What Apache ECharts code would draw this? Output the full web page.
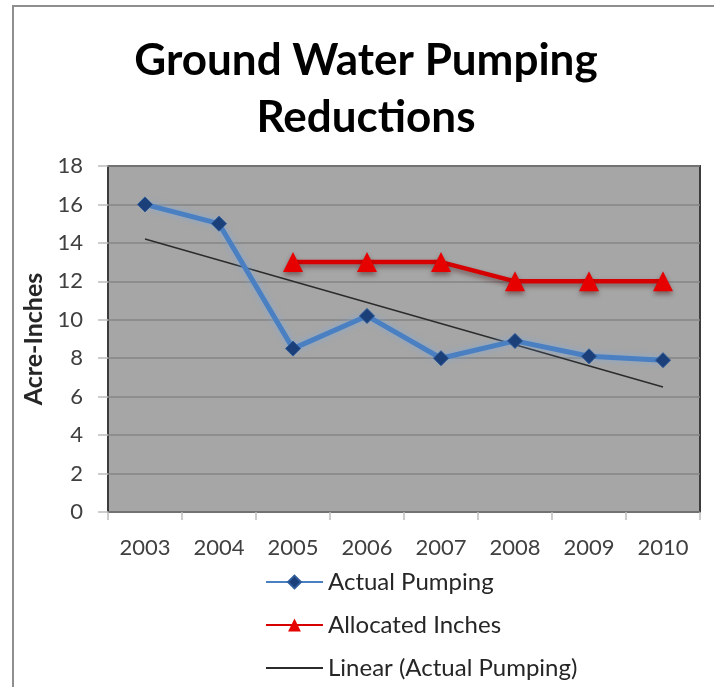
<!DOCTYPE html>
<html>
<head>
<meta charset="utf-8">
<script src="https://cdn.jsdelivr.net/npm/echarts@6/dist/echarts.min.js"></script>
<style>
  html, body { margin: 0; padding: 0; background: #ffffff; }
  #chart { width: 714px; height: 687px; }
</style>
</head>
<body>
<div id="chart"></div>
<script>
// Years on the category axis
const years = ['2003', '2004', '2005', '2006', '2007', '2008', '2009', '2010'];

// Acre-inches actually pumped each year
const actualPumping = [16, 15, 8.5, 10.2, 8, 8.9, 8.1, 7.9];

// Allocation (starts in 2005)
const allocatedInches = [null, null, 13, 13, 13, 12, 12, 12];

// Linear trend of actual pumping: first and last year values
const linearTrend = [14.2, null, null, null, null, null, null, 6.5];

// Value axis ticks
const yTicks = [0, 2, 4, 6, 8, 10, 12, 14, 16, 18];

const FONT = 'Lato';
const chart = echarts.init(document.getElementById('chart'), null, { renderer: 'canvas' });

chart.setOption({
  backgroundColor: '#ffffff',
  animation: false,
  title: {
    text: 'Ground Water Pumping\nReductions',
    left: 361,
    textAlign: 'center',
    top: 27,
    textStyle: {
      fontFamily: FONT,
      fontWeight: 'bold',
      fontSize: 44,
      lineHeight: 57,
      color: '#000000'
    }
  },
  graphic: [{
    type: 'rect',
    z: -10,
    shape: { x: 13, y: 6, width: 760, height: 760 },
    style: { fill: 'none', stroke: '#8e8e8e', lineWidth: 2 }
  }],
  legend: {
    orient: 'vertical',
    left: 260,
    top: 565,
    itemWidth: 57,
    itemHeight: 16,
    itemGap: 19,
    textStyle: { fontFamily: FONT, fontSize: 24, color: '#262626' },
    data: ['Actual Pumping', 'Allocated Inches', 'Linear (Actual Pumping)']
  },
  grid: {
    left: 108,
    top: 166,
    right: 14,
    bottom: 175,
    show: true,
    backgroundColor: '#a6a6a6',
    borderColor: '#3c3c3c',
    borderWidth: 2,
    containLabel: false
  },
  xAxis: {
    type: 'category',
    data: years,
    boundaryGap: true,
    axisLine: { show: false },
    axisTick: { show: true, inside: false, length: 8, lineStyle: { color: '#bdbdbd', width: 1.5 } },
    axisLabel: { fontFamily: FONT, fontSize: 22, color: '#404040', margin: 25 },
    splitLine: { show: false }
  },
  yAxis: {
    type: 'value',
    min: yTicks[0],
    max: yTicks[yTicks.length - 1],
    interval: 2,
    name: 'Acre-Inches',
    nameLocation: 'middle',
    nameRotate: 90,
    nameGap: 62,
    nameTextStyle: { fontFamily: FONT, fontSize: 25, fontWeight: 'bold', color: '#262626' },
    axisLine: { show: false },
    axisTick: { show: true, length: 10, lineStyle: { color: '#bdbdbd', width: 1.5 } },
    axisLabel: { fontFamily: FONT, fontSize: 22, color: '#404040', margin: 25 },
    splitLine: { show: true, lineStyle: { color: '#858585', width: 1.5 } }
  },
  series: [
    {
      name: 'Actual Pumping',
      type: 'line',
      data: actualPumping,
      symbol: 'diamond',
      symbolSize: 15,
      lineStyle: {
        color: '#4a7fc1', width: 5,
        shadowColor: 'rgba(120,170,230,0.7)', shadowBlur: 6
      },
      itemStyle: { color: '#1b3f78', borderColor: '#2d5a9a', borderWidth: 1 },
      z: 3
    },
    {
      name: 'Allocated Inches',
      type: 'line',
      data: allocatedInches,
      symbol: 'triangle',
      symbolSize: 20,
      lineStyle: {
        color: '#d60000', width: 4.5,
        shadowColor: 'rgba(60,0,0,0.45)', shadowBlur: 5, shadowOffsetY: 3
      },
      itemStyle: {
        color: '#e60000',
        shadowColor: 'rgba(60,0,0,0.45)', shadowBlur: 5, shadowOffsetY: 3
      },
      z: 3
    },
    {
      name: 'Linear (Actual Pumping)',
      type: 'line',
      data: linearTrend,
      connectNulls: true,
      symbol: 'none',
      lineStyle: { color: '#2b2b2b', width: 1.5 },
      // plain trend line: no marker in the legend key either
      itemStyle: { color: 'rgba(0,0,0,0)', borderWidth: 0 },
      z: 2
    }
  ]
});
</script>
</body>
</html>
